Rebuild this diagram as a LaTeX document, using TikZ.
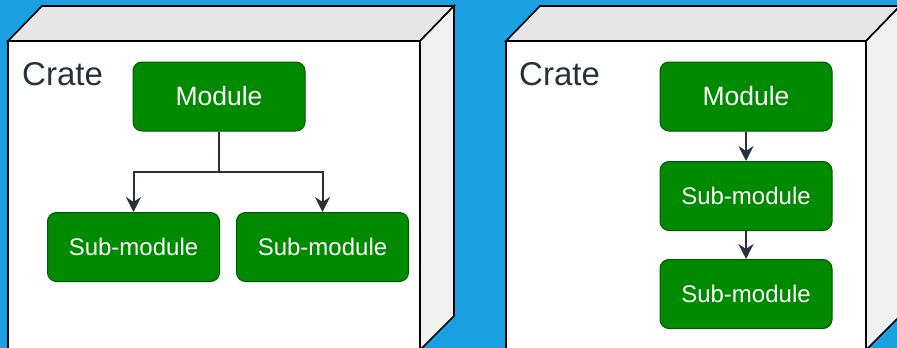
\documentclass[tikz,border=0pt]{standalone}
\usepackage{fontspec}
\setmainfont{Liberation Sans}
\usetikzlibrary{arrows.meta}
\definecolor{bgblue}{HTML}{1BA1E2}
\definecolor{topgray}{HTML}{E6E6E6}
\definecolor{sidegray}{HTML}{F0F0F0}
\definecolor{gfill}{HTML}{008A00}
\definecolor{gline}{HTML}{005700}
\definecolor{darktxt}{HTML}{263238}
\tikzset{
  face/.style={draw=black, line width=1.6pt, line join=miter},
  gbox/.style={draw=gline, fill=gfill, line width=1pt, rounded corners=9pt,
    minimum width=172pt, minimum height=69pt, inner sep=0pt, text=white,
    font=\fontsize{24}{28}\selectfont},
  modbox/.style={gbox, font=\fontsize{26.5}{30}\selectfont},
  cratelbl/.style={anchor=base west, text=darktxt, inner sep=0pt,
    font=\fontsize{33}{38}\selectfont},
  conn/.style={draw=darktxt, line width=2pt,
    -{Stealth[length=15pt,width=15pt,inset=5pt]}}
}
\begin{document}
\begin{tikzpicture}[x=1pt,y=-1pt]
\useasboundingbox (0,0) rectangle (897,348);
\fill[bgblue] (0,0) rectangle (897,348);
\begin{scope}
\clip (0,0) rectangle (897,348);
% left cube
\filldraw[face, fill=white] (8,41) rectangle (420,352);
\filldraw[face, fill=topgray] (8,41) -- (42,6) -- (454,6) -- (420,41) -- cycle;
\filldraw[face, fill=sidegray] (420,41) -- (454,6) -- (454,316) -- (420,350) -- cycle;
% right cube
\filldraw[face, fill=white] (506,41) rectangle (866,352);
\filldraw[face, fill=topgray] (506,41) -- (540,6) -- (900,6) -- (866,41) -- cycle;
\filldraw[face, fill=sidegray] (866,41) -- (900,6) -- (900,316) -- (866,350) -- cycle;
\end{scope}

% left content
\node[cratelbl] (crateA) at (22,85) {Crate};
\node[modbox] (modA) at (219,96.5) {Module};
\node[gbox] (subA1) at (133.5,247) {Sub-module};
\node[gbox] (subA2) at (322.5,247) {Sub-module};
\coordinate (split) at (219,171.5);
\draw[conn] (modA.south) -- (split) -| (subA1.north);
\draw[conn] (split) -| (subA2.north);

% right content
\node[cratelbl] (crateB) at (519,85) {Crate};
\node[modbox] (modB) at (746,96.5) {Module};
\node[gbox] (subB1) at (746,196) {Sub-module};
\node[gbox] (subB2) at (746,294) {Sub-module};
\draw[conn] (modB.south) -- (subB1.north);
\draw[conn] (subB1.south) -- (subB2.north);
\end{tikzpicture}
\end{document}
